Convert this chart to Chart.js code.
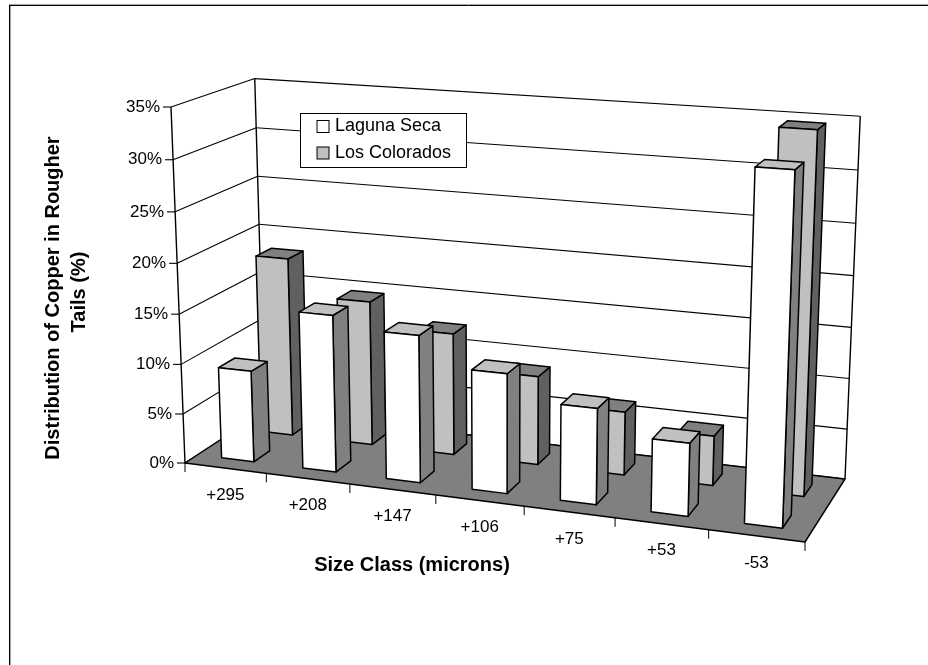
<!DOCTYPE html>
<html>
<head>
<meta charset="utf-8">
<title>Distribution of Copper in Rougher Tails</title>
<script src="https://cdn.jsdelivr.net/npm/chart.js@4/dist/chart.umd.js"></script>
<style>
    html, body { margin: 0; padding: 0; background: #fff; }
    canvas { display: block; }
</style>
</head>
<body>
<canvas id="copperChart" width="928" height="665"></canvas>
<script>
const sizeClasses = ['+295', '+208', '+147', '+106', '+75', '+53', '-53'];
const lagunaSeca = [9.2, 15.6, 14.5, 11.7, 9.3, 7.0, 32.7];
const losColorados = [18.3, 14.7, 12.3, 8.9, 6.3, 4.9, 34.65];

const FONT = '"Liberation Sans", Arial, sans-serif';

// floor of the box on screen: front-left, front-right, back-right, back-left
const floorCorners = [[185, 463], [805, 542], [845, 479], [264.5, 411]];
// where the value axis ends above the front-left corner
const axisTop = [171, 107];
// homogeneous term of the vertical direction, verticals meet far below the chart
const convergence = -0.042;

// 3D projective camera: the floor homography plus one column for height
function makeCamera(q, top, z) {
    const dx1 = q[1][0] - q[2][0], dx2 = q[3][0] - q[2][0], sx = q[0][0] - q[1][0] + q[2][0] - q[3][0];
    const dy1 = q[1][1] - q[2][1], dy2 = q[3][1] - q[2][1], sy = q[0][1] - q[1][1] + q[2][1] - q[3][1];
    const den = dx1 * dy2 - dx2 * dy1;
    const g = (sx * dy2 - dx2 * sy) / den;
    const h = (dx1 * sy - sx * dy1) / den;
    const a = q[1][0] - q[0][0] + g * q[1][0], b = q[3][0] - q[0][0] + h * q[3][0];
    const d = q[1][1] - q[0][1] + g * q[1][1], e = q[3][1] - q[0][1] + h * q[3][1];
    const cx = top[0] * (1 + z) - q[0][0];
    const cy = top[1] * (1 + z) - q[0][1];
    // u along the categories, v into the depth, w up the value axis (all 0..1)
    return (u, v, w) => {
        const n = g * u + h * v + 1 + z * w;
        return [
            (a * u + b * v + q[0][0] + cx * w) / n,
            (d * u + e * v + q[0][1] + cy * w) / n
        ];
    };
}

const project = makeCamera(floorCorners, axisTop, convergence);

function poly(ctx, pts, fill) {
    ctx.beginPath();
    pts.forEach((p, i) => i ? ctx.lineTo(p[0], p[1]) : ctx.moveTo(p[0], p[1]));
    ctx.closePath();
    if (fill) {
        ctx.fillStyle = fill;
        ctx.fill();
    }
    ctx.stroke();
}

function line(ctx, a, b) {
    ctx.beginPath();
    ctx.moveTo(a[0], a[1]);
    ctx.lineTo(b[0], b[1]);
    ctx.stroke();
}

function text(ctx, str, x, y, font, align, angle) {
    ctx.save();
    ctx.translate(x, y);
    if (angle) ctx.rotate(angle);
    ctx.font = font;
    ctx.fillStyle = '#000';
    ctx.textAlign = align || 'center';
    ctx.textBaseline = 'middle';
    ctx.fillText(str, 0, 0);
    ctx.restore();
}

const box3d = {
    id: 'box3d',

    beforeDraw(chart) {
        const ctx = chart.ctx;
        ctx.save();
        ctx.fillStyle = '#fff';
        ctx.fillRect(0, 0, chart.width, chart.height);

        // outer frame, only top and left show
        ctx.lineWidth = 1;
        ctx.strokeStyle = '#a6a6a6';
        line(ctx, [9, 4.5], [928, 4.5]);
        line(ctx, [10.5, 5], [10.5, 665]);
        ctx.strokeStyle = '#000';
        line(ctx, [9, 5.5], [928, 5.5]);
        line(ctx, [9.5, 5], [9.5, 665]);
        ctx.restore();
    },

    beforeDatasetsDraw(chart) {
        const ctx = chart.ctx, area = chart.chartArea;
        const xs = chart.scales.x, ys = chart.scales.y;
        const toW = v => (area.bottom - ys.getPixelForValue(v)) / area.height;
        const toU = px => (px - area.left) / area.width;

        ctx.save();
        ctx.strokeStyle = '#000';
        ctx.lineJoin = 'round';
        ctx.lineWidth = 1.1;

        // gridlines on the side wall and the back wall, with value ticks
        ys.ticks.forEach(tick => {
            const w = toW(tick.value);
            const front = project(0, 0, w), back = project(0, 1, w), right = project(1, 1, w);
            line(ctx, front, back);
            line(ctx, back, right);
            line(ctx, [front[0] - 8, front[1]], front);
            text(ctx, tick.label, front[0] - 11, front[1], '17px ' + FONT, 'right');
        });

        ctx.lineWidth = 1.4;
        line(ctx, project(0, 0, 0), project(0, 0, 1));
        line(ctx, project(0, 1, 0), project(0, 1, 1));
        line(ctx, project(1, 1, 0), project(1, 1, 1));

        // floor
        poly(ctx, [project(0, 0, 0), project(1, 0, 0), project(1, 1, 0), project(0, 1, 0)], '#808080');

        // category ticks sit on the boundaries, labels in between
        const step = xs.getPixelForValue(1) - xs.getPixelForValue(0);
        for (let i = 0; i <= sizeClasses.length; i++) {
            const p = project(toU(xs.getPixelForValue(i) - step / 2), 0, 0);
            ctx.lineWidth = 1;
            line(ctx, p, [p[0], p[1] + 9]);
        }
        xs.ticks.forEach((tick, i) => {
            const p = project(toU(xs.getPixelForValue(i)), 0, 0);
            text(ctx, tick.label, p[0], p[1] + 27, '17px ' + FONT);
        });

        // axis titles
        text(ctx, 'Size Class (microns)', 412, 565, 'bold 20px ' + FONT);
        text(ctx, 'Distribution of Copper in Rougher', 53, 298, 'bold 20px ' + FONT, 'center', -Math.PI / 2);
        text(ctx, 'Tails (%)', 79, 292, 'bold 20px ' + FONT, 'center', -Math.PI / 2);
        ctx.restore();
    },

    // each series gets its own row in depth, back row comes first
    beforeDatasetDraw(chart, args) {
        const ctx = chart.ctx, area = chart.chartArea;
        const ds = chart.data.datasets[args.index];
        const rows = chart.data.datasets.length;
        const centre = (args.index + 0.5) / rows;
        const half = ds.barPercentage / rows / 2;
        const v0 = centre - half, v1 = centre + half;

        ctx.save();
        ctx.strokeStyle = '#000';
        ctx.lineWidth = 1.5;
        ctx.lineJoin = 'round';
        args.meta.data.forEach(bar => {
            const u0 = (bar.x - bar.width / 2 - area.left) / area.width;
            const u1 = (bar.x + bar.width / 2 - area.left) / area.width;
            const w0 = (area.bottom - bar.base) / area.height;
            const w1 = (area.bottom - bar.y) / area.height;
            poly(ctx, [project(u1, v0, w0), project(u1, v1, w0), project(u1, v1, w1), project(u1, v0, w1)], ds.sideColor);
            poly(ctx, [project(u0, v0, w1), project(u1, v0, w1), project(u1, v1, w1), project(u0, v1, w1)], ds.topColor);
            poly(ctx, [project(u0, v0, w0), project(u1, v0, w0), project(u1, v0, w1), project(u0, v0, w1)], ds.backgroundColor);
        });
        ctx.restore();
        return false;
    },

    afterDatasetsDraw(chart) {
        const ctx = chart.ctx;
        ctx.save();
        ctx.strokeStyle = '#000';
        ctx.lineWidth = 1;
        ctx.fillStyle = '#fff';
        ctx.fillRect(300.5, 113.5, 166, 54);
        ctx.strokeRect(300.5, 113.5, 166, 54);
        chart.data.datasets.forEach((ds, i) => {
            const y = 120.5 + i * 26.5;
            ctx.fillStyle = ds.backgroundColor;
            ctx.fillRect(317, y, 12, 12);
            ctx.strokeRect(317, y, 12, 12);
            text(ctx, ds.label, 335, y + 6, '18px ' + FONT, 'left');
        });
        ctx.restore();
    }
};

new Chart(document.getElementById('copperChart'), {
    type: 'bar',
    data: {
        labels: sizeClasses,
        datasets: [
            {
                label: 'Laguna Seca',
                data: lagunaSeca,
                backgroundColor: '#ffffff',
                sideColor: '#808080',
                topColor: '#c0c0c0',
                categoryPercentage: 1,
                barPercentage: 0.4,
                grouped: false
            },
            {
                label: 'Los Colorados',
                data: losColorados,
                backgroundColor: '#c0c0c0',
                sideColor: '#606060',
                topColor: '#808080',
                categoryPercentage: 1,
                barPercentage: 0.4,
                grouped: false
            }
        ]
    },
    options: {
        responsive: false,
        animation: false,
        layout: { padding: 0 },
        plugins: {
            legend: { display: false },
            tooltip: { enabled: false }
        },
        scales: {
            x: { display: false },
            y: {
                display: false,
                min: 0,
                max: 35,
                ticks: { stepSize: 5, callback: v => v + '%' }
            }
        }
    },
    plugins: [box3d]
});
</script>
</body>
</html>
